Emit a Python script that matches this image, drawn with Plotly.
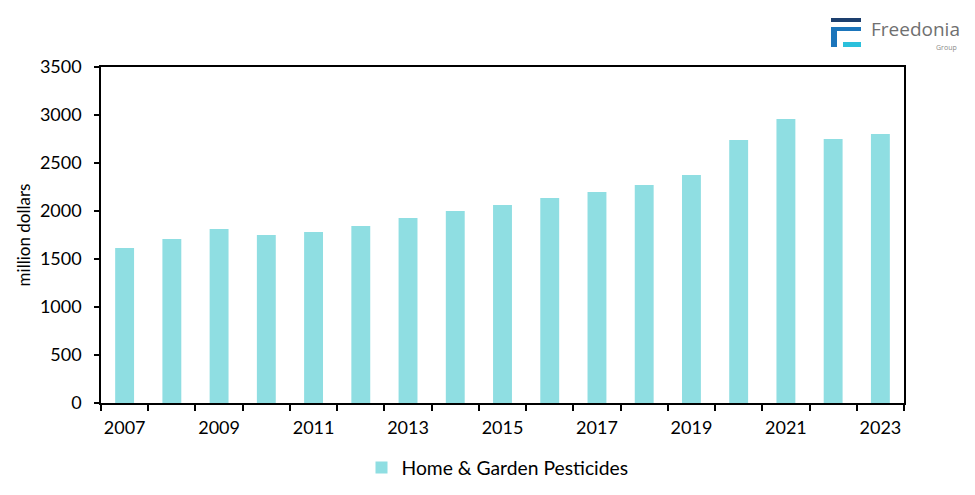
import plotly.graph_objects as go

years = list(range(2007, 2024))
values = [1615, 1708, 1812, 1750, 1781, 1844, 1927, 2000, 2062, 2135, 2198, 2271, 2375, 2740, 2958, 2750, 2802]
series_name = "Home & Garden Pesticides"
label_years = list(range(2007, 2024, 2))

# The page body has an 8px default margin, so the figure is sized to fit inside it.
OFF = 8
W, H = 975 - 2 * OFF, 495 - 2 * OFF
L, R, T, B = 101 - OFF, 904 - OFF, 67 - OFF, 403 - OFF
FONT = "Lato, 'Open Sans', sans-serif"
BAR = "#8fdee2"

fig = go.Figure()
fig.add_trace(go.Bar(x=years, y=values, name=series_name, marker_color=BAR,
                     marker_line_width=0, width=0.4))

fig.update_layout(
    width=W, height=H,
    margin=dict(l=L, r=W - R, t=T, b=H - B, autoexpand=False),
    plot_bgcolor="white", paper_bgcolor="white",
    font=dict(family=FONT, size=17, color="#000000"),
    showlegend=True,
    legend=dict(orientation="h", x=0.5 - 5 / (R - L), xanchor="center",
                y=(B - (468 - OFF)) / (B - T), yanchor="middle",
                font=dict(size=19.3), itemwidth=30),
    xaxis=dict(range=[2006.5, 2023.5], tickvals=label_years,
               ticktext=[str(y) for y in label_years], ticks="",
               showline=True, linecolor="black", linewidth=1.5, mirror=True,
               showgrid=False, zeroline=False, tickfont=dict(size=18),
               ticklabelstandoff=8, automargin=False,
               minor=dict(tick0=2006.5, dtick=1, ticks="outside", ticklen=6,
                          tickcolor="black", tickwidth=1.5, showgrid=False)),
    yaxis=dict(range=[0, 3500], dtick=500, ticks="outside", ticklen=5,
               tickcolor="black", tickwidth=1.5,
               showline=True, linecolor="black", linewidth=1.5, mirror=True,
               showgrid=False, zeroline=False, tickfont=dict(size=18),
               ticklabelstandoff=9, automargin=False,
               title=dict(text="million dollars", font=dict(size=17), standoff=5)),
)

# Logo (decoration), page-pixel positions converted to paper coordinates
def fx(x):
    return (x - OFF - L) / (R - L)
def fy(y):
    return (B - (y - OFF)) / (B - T)

logo = [
    (831, 18, 861, 22, "#1d3f6e"),
    (831, 27, 861, 31, "#1b75bb"),
    (831, 27, 837, 47, "#1b75bb"),
    (843, 42, 861, 47, "#2bc0dc"),
]
for x0, y0, x1, y1, c in logo:
    fig.add_shape(type="rect", xref="paper", yref="paper",
                  x0=fx(x0), x1=fx(x1), y0=fy(y1), y1=fy(y0),
                  fillcolor=c, line_width=0, layer="above")

fig.add_annotation(text="Freedonia", xref="paper", yref="paper",
                   x=fx(870), y=fy(29), xanchor="left", yanchor="middle", borderpad=0,
                   showarrow=False, font=dict(family="'Open Sans', Lato, sans-serif", size=19, color="#707070"))
fig.add_annotation(text="Group", xref="paper", yref="paper",
                   x=fx(958), y=fy(47), xanchor="right", yanchor="middle", borderpad=0,
                   showarrow=False, font=dict(family="'Open Sans', Lato, sans-serif", size=7, color="#8a8a8a"))

fig.write_html("out.html")
